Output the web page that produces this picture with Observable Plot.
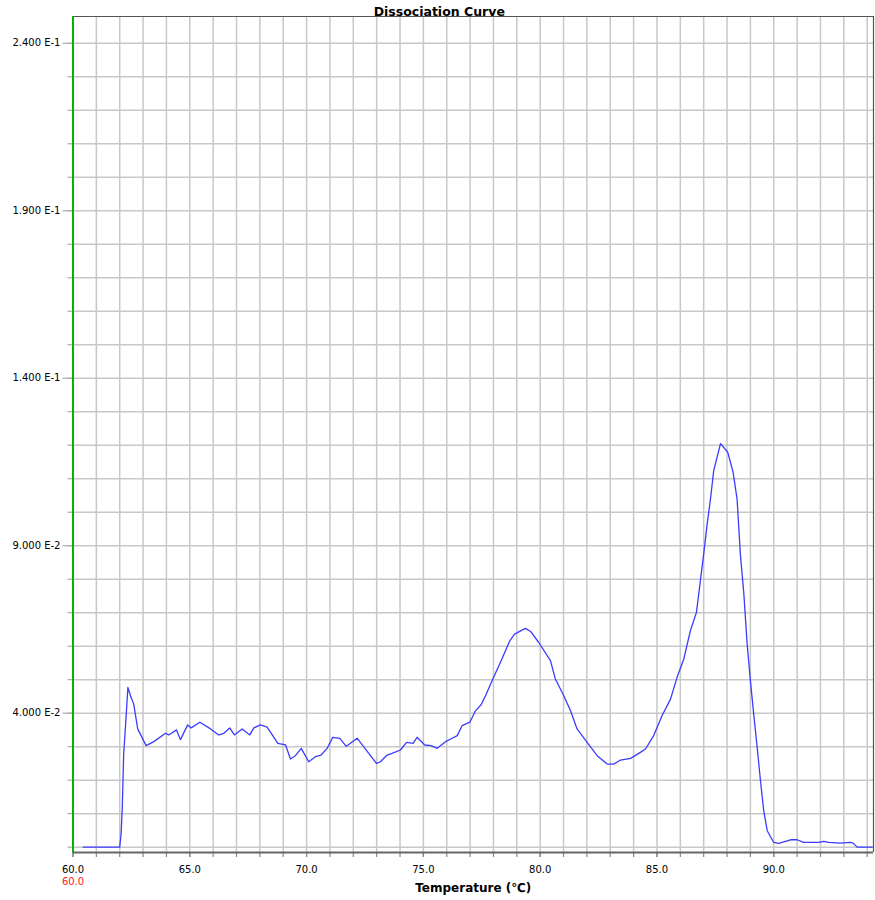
<!DOCTYPE html>
<html>
<head>
<meta charset="utf-8">
<script src="https://cdn.jsdelivr.net/npm/d3@7"></script>
<script src="https://cdn.jsdelivr.net/npm/@observablehq/plot@0.6"></script>
<style>
  html, body { margin: 0; padding: 0; background: #fff; }
  #chart svg { display: block; }
</style>
</head>
<body>
<div id="chart"></div>
<script>
const title = "Dissociation Curve";
const xLabel = "Temperature (℃)";

const temps = [60.44, 62.0, 62.06, 62.11, 62.17, 62.25, 62.35, 62.46, 62.60, 62.77, 63.13, 63.46, 63.96, 64.10, 64.43, 64.60, 64.91, 65.06, 65.43, 65.89, 66.24, 66.46, 66.71, 66.91, 67.24, 67.57, 67.74, 68.03, 68.31, 68.53, 68.77, 69.10, 69.31, 69.52, 69.77, 70.09, 70.38, 70.62, 70.88, 71.12, 71.42, 71.70, 72.17, 72.99, 73.16, 73.45, 73.66, 74.02, 74.28, 74.56, 74.73, 75.06, 75.33, 75.59, 75.95, 76.23, 76.45, 76.66, 76.99, 77.23, 77.47, 77.66, 77.94, 78.30, 78.70, 78.90, 79.37, 79.59, 79.94, 80.44, 80.65, 81.01, 81.30, 81.58, 82.01, 82.44, 82.87, 83.15, 83.44, 83.87, 84.29, 84.51, 84.86, 85.22, 85.58, 85.86, 86.15, 86.43, 86.69, 86.86, 87.00, 87.15, 87.29, 87.43, 87.72, 88.03, 88.26, 88.43, 88.57, 88.72, 88.86, 89.00, 89.14, 89.29, 89.43, 89.57, 89.72, 90.00, 90.21, 90.72, 91.00, 91.28, 91.93, 92.14, 92.35, 92.85, 93.28, 93.40, 93.57, 94.21];

const derivative = [0, 0, 0.0040, 0.0119, 0.0279, 0.0363, 0.0477, 0.0452, 0.0427, 0.0353, 0.0303, 0.0315, 0.0340, 0.0335, 0.0350, 0.0321, 0.0365, 0.0356, 0.0373, 0.0353, 0.0335, 0.0340, 0.0356, 0.0335, 0.0353, 0.0335, 0.0356, 0.0365, 0.0358, 0.0335, 0.0310, 0.0305, 0.0263, 0.0273, 0.0295, 0.0255, 0.0270, 0.0275, 0.0295, 0.0328, 0.0325, 0.0301, 0.0325, 0.0250, 0.0255, 0.0275, 0.0280, 0.0290, 0.0313, 0.0310, 0.0328, 0.0305, 0.0303, 0.0295, 0.0315, 0.0325, 0.0333, 0.0363, 0.0373, 0.0407, 0.0425, 0.0452, 0.0497, 0.0552, 0.0616, 0.0636, 0.0653, 0.0644, 0.0611, 0.0557, 0.0502, 0.0452, 0.0407, 0.0353, 0.0313, 0.0273, 0.0248, 0.0248, 0.0260, 0.0265, 0.0283, 0.0293, 0.0333, 0.0393, 0.0442, 0.0507, 0.0562, 0.0646, 0.0701, 0.0796, 0.0875, 0.0965, 0.1039, 0.1124, 0.1205, 0.1179, 0.1119, 0.1039, 0.0875, 0.0756, 0.0607, 0.0497, 0.0398, 0.0298, 0.0199, 0.0109, 0.0049, 0.0014, 0.0011, 0.0022, 0.0022, 0.0014, 0.0014, 0.0017, 0.0014, 0.0012, 0.0014, 0.0012, 0, 0];

const xTickValues = [60, 65, 70, 75, 80, 85, 90];
const xTickLabels = ["60.0", "65.0", "70.0", "75.0", "80.0", "85.0", "90.0"];
const yTickValues = [0.04, 0.09, 0.14, 0.19, 0.24];
const yTickLabels = ["4.000 E-2", "9.000 E-2", "1.400 E-1", "1.900 E-1", "2.400 E-1"];
const xMarker = [60];
const xMarkerLabels = ["60.0"];

const xDomain = [60, 94.27];
const yDomain = [-0.0016, 0.248];

const data = temps.map((t, i) => ({t, v: derivative[i]}));
const xMinor = d3.range(60, 95);
const yMinor = d3.range(0, 25).map(i => i / 100);

const font = "DejaVu Sans, Verdana, sans-serif";

const chart = Plot.plot({
  width: 875,
  height: 900,
  marginLeft: 72.5,
  marginRight: 2,
  marginTop: 16,
  marginBottom: 48,
  style: {fontFamily: font, fontSize: "10px", background: "#fff", color: "#000"},
  x: {domain: xDomain, axis: null},
  y: {domain: yDomain, axis: null},
  marks: [
    Plot.gridX(xMinor.filter(d => d > 60), {stroke: "#c8c8c8", strokeOpacity: 1, strokeWidth: 1.5}),
    Plot.gridY(yMinor, {stroke: "#c8c8c8", strokeOpacity: 1, strokeWidth: 1.5}),
    Plot.ruleY([yDomain[1]], {stroke: "#555", strokeWidth: 1.2}),
    Plot.ruleX([xDomain[1]], {stroke: "#555", strokeWidth: 1.2}),
    Plot.axisX(xMinor, {tickSize: 5, tickFormat: () => "", label: null, stroke: "#888", strokeWidth: 1.2}),
    Plot.axisX(xTickValues, {tickSize: 5, tickPadding: 8, label: null, stroke: "#888", strokeWidth: 1.2,
      tickFormat: d => xTickLabels[xTickValues.indexOf(d)], fill: "#000", fontSize: 10}),
    Plot.axisY(yMinor, {tickSize: 5, tickFormat: () => "", label: null, stroke: "#aaa", strokeWidth: 1.2}),
    Plot.axisY(yTickValues, {tickSize: 10, tickPadding: 2.5, label: null, stroke: "#aaa", strokeWidth: 1.2,
      tickFormat: d => yTickLabels[yTickValues.indexOf(d)], fill: "#000", fontSize: 10}),
    Plot.ruleY([yDomain[0]], {stroke: "#666", strokeWidth: 2.2}),
    Plot.ruleX([xDomain[0]], {stroke: "#00b400", strokeWidth: 2}),
    Plot.line(data, {x: "t", y: "v", stroke: "#3c3cff", strokeWidth: 1.3}),
    Plot.text(xMarker, {x: d => d, frameAnchor: "bottom", dy: 32, text: (d, i) => xMarkerLabels[i],
      fill: "#ff2020", fontSize: 10}),
    Plot.text([xLabel], {frameAnchor: "bottom", dy: 39, text: d => d, fontWeight: "bold", fontSize: 12, fill: "#000"}),
    Plot.text([title], {frameAnchor: "top", dx: -34, dy: -9, text: d => d, fontWeight: "bold", fontSize: 12.5, fill: "#000"})
  ]
});
document.getElementById("chart").appendChild(chart);
</script>
</body>
</html>
